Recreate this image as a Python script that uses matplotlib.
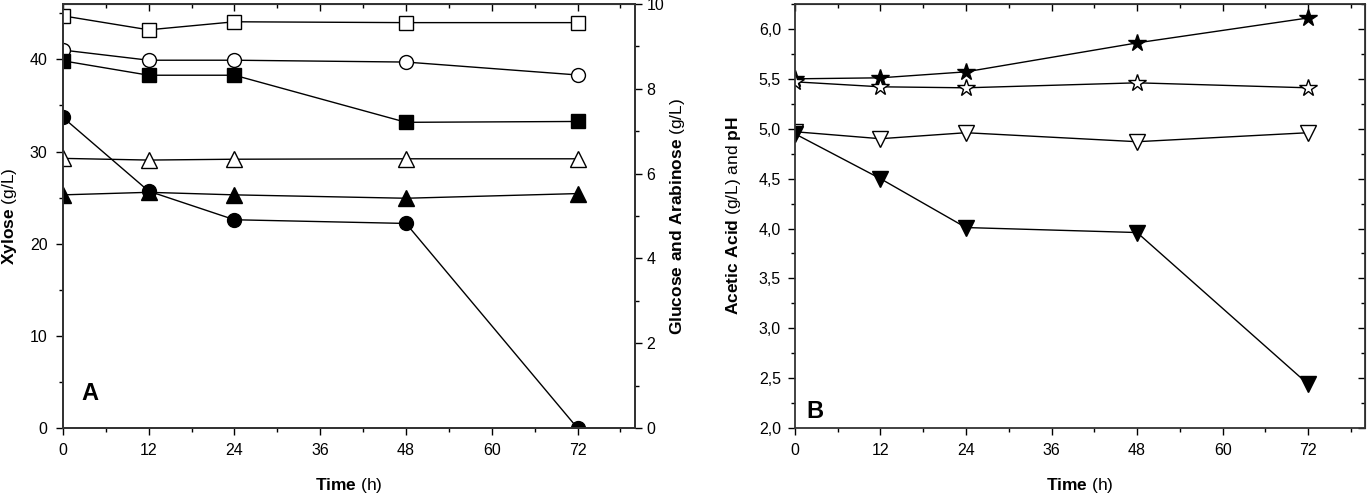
import matplotlib
matplotlib.use("Agg")
import matplotlib.pyplot as plt
from matplotlib.ticker import MultipleLocator, FuncFormatter, NullFormatter

plt.rcParams['font.family'] = ['Liberation Sans', 'DejaVu Sans']
plt.rcParams['mathtext.fontset'] = 'custom'
plt.rcParams['mathtext.rm'] = 'Liberation Sans'
plt.rcParams['mathtext.bf'] = 'Liberation Sans:bold'

# sampling times (h)
time_h = [0, 12, 24, 48, 72]

# panel A - xylose (left axis, g/L)
xylose_open = [41.0, 39.9, 39.9, 39.7, 38.3]
xylose_filled = [33.7, 25.7, 22.6, 22.2, 0.0]
# panel A - glucose and arabinose (right axis, g/L)
glucose_open = [9.72, 9.39, 9.58, 9.56, 9.56]
glucose_filled = [8.66, 8.32, 8.32, 7.21, 7.23]
arabinose_open = [6.36, 6.32, 6.34, 6.35, 6.35]
arabinose_filled = [5.50, 5.56, 5.50, 5.42, 5.53]

# panel B - acetic acid and pH
ph_filled = [5.50, 5.51, 5.57, 5.86, 6.11]
ph_open = [5.47, 5.42, 5.41, 5.46, 5.41]
acetic_open = [4.97, 4.90, 4.96, 4.87, 4.96]
acetic_filled = [4.95, 4.50, 4.01, 3.96, 2.44]

fig = plt.figure(figsize=(13.68, 4.95), dpi=100)
axA = fig.add_axes([0.046, 0.135, 0.418, 0.857])
axB = fig.add_axes([0.581, 0.135, 0.417, 0.857])

line_kw = dict(color='black', lw=1.0, mec='black', mew=1.0)
LABEL_FS = 12.5
TICK_FS = 11.5


def ticks(ax, axis, direction, pad=5):
    ax.tick_params(axis=axis, which='both', direction=direction, labelsize=TICK_FS, pad=pad)
    ax.tick_params(axis=axis, which='major', length=5, width=1)
    ax.tick_params(axis=axis, which='minor', length=3, width=1)


def style_spines(ax):
    for s in ax.spines.values():
        s.set_linewidth(1.3)
        s.set_color('#333333')


def style_x(ax):
    ax.set_xlim(0, 80)
    ax.xaxis.set_major_locator(MultipleLocator(12))
    ax.xaxis.set_minor_locator(MultipleLocator(6))
    ax.set_xlabel(r'$\bf{Time}$ (h)', fontsize=LABEL_FS)
    ax.xaxis.set_label_coords(0.5, -0.112)
    ticks(ax, 'x', 'out', pad=6)
    ax.tick_params(axis='x', which='both', top=False)
    # inward ticks along the top spine
    top = ax.secondary_xaxis('top')
    top.xaxis.set_major_locator(MultipleLocator(12))
    top.xaxis.set_minor_locator(MultipleLocator(6))
    top.xaxis.set_major_formatter(NullFormatter())
    ticks(top, 'x', 'in')
    style_spines(ax)


# ---- panel A ----
axA.plot(time_h, xylose_open, marker='o', ms=10, mfc='white', **line_kw)
axA.plot(time_h, xylose_filled, marker='o', ms=10, mfc='black', **line_kw)
axA.set_ylim(0, 46)
axA.yaxis.set_major_locator(MultipleLocator(10))
axA.yaxis.set_minor_locator(MultipleLocator(5))
ticks(axA, 'y', 'out', pad=6)
axA.set_ylabel(r'$\bf{Xylose}$ (g/L)', fontsize=LABEL_FS)
axA.yaxis.set_label_coords(-0.077, 0.5)
style_x(axA)
axA.text(0.033, 0.066, 'A', transform=axA.transAxes, fontsize=17, fontweight='bold',
         ha='left', va='baseline')

axA2 = axA.twinx()
axA2.plot(time_h, glucose_open, marker='s', ms=9.5, mfc='white', **line_kw)
axA2.plot(time_h, glucose_filled, marker='s', ms=9.5, mfc='black', **line_kw)
axA2.plot(time_h, arabinose_open, marker='^', ms=11, mfc='white', **line_kw)
axA2.plot(time_h, arabinose_filled, marker='^', ms=11, mfc='black', **line_kw)
axA2.set_ylim(0, 10)
axA2.yaxis.set_major_locator(MultipleLocator(2))
axA2.yaxis.set_minor_locator(MultipleLocator(1))
ticks(axA2, 'y', 'out', pad=3.5)
axA2.set_ylabel(r'$\bf{Glucose\ and\ Arabinose}$ (g/L)', fontsize=LABEL_FS)
axA2.yaxis.set_label_coords(1.058, 0.5)
style_spines(axA2)

# ---- panel B ----
axB.plot(time_h, ph_filled, marker='*', ms=13, mfc='black', **line_kw)
axB.plot(time_h, ph_open, marker='*', ms=13, mfc='white', **line_kw)
axB.plot(time_h, acetic_open, marker='v', ms=11, mfc='white', **line_kw)
axB.plot(time_h, acetic_filled, marker='v', ms=11, mfc='black', **line_kw)
axB.set_ylim(2.0, 6.25)
axB.yaxis.set_major_locator(MultipleLocator(0.5))
axB.yaxis.set_minor_locator(MultipleLocator(0.25))
axB.yaxis.set_major_formatter(FuncFormatter(lambda v, p: f'{v:.1f}'.replace('.', ',')))
ticks(axB, 'y', 'out', pad=5)
axB.set_ylabel(r'$\bf{Acetic\ Acid}$ (g/L) and $\bf{pH}$', fontsize=LABEL_FS)
axB.yaxis.set_label_coords(-0.091, 0.5)
style_x(axB)
# inward ticks along the right spine
rightB = axB.secondary_yaxis('right')
rightB.yaxis.set_major_locator(MultipleLocator(0.5))
rightB.yaxis.set_minor_locator(MultipleLocator(0.25))
rightB.yaxis.set_major_formatter(NullFormatter())
ticks(rightB, 'y', 'in')
axB.text(0.021, 0.024, 'B', transform=axB.transAxes, fontsize=17, fontweight='bold',
         ha='left', va='baseline')

fig.savefig('out.png', dpi=100)
